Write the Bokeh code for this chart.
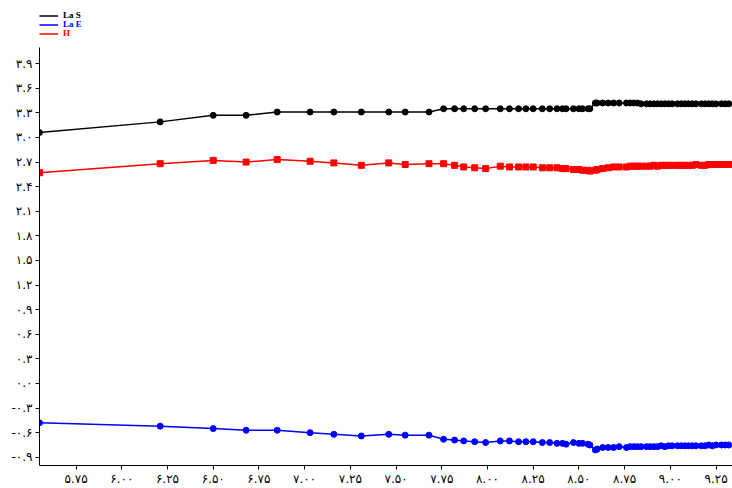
from bokeh.plotting import figure
from bokeh.models import (Range1d, FixedTicker, CustomJSTickFormatter, Legend, LegendItem)
from bokeh.embed import file_html
from bokeh.resources import INLINE

# ---- data ----
x_vals = [5.55, 6.21, 6.50, 6.68, 6.85, 7.03, 7.16, 7.31, 7.46, 7.55, 7.68,
          7.76, 7.82, 7.87, 7.93, 7.99, 8.07, 8.12, 8.17, 8.21, 8.25, 8.30,
          8.34, 8.38, 8.41, 8.43, 8.47, 8.50, 8.52, 8.55, 8.56,
          8.59, 8.60, 8.63, 8.66, 8.69, 8.72, 8.76, 8.78, 8.80, 8.82, 8.84,
          8.87, 8.89, 8.91, 8.93, 8.95, 8.97, 8.99, 9.01, 9.04, 9.06, 9.08,
          9.10, 9.12, 9.14, 9.17, 9.19, 9.21, 9.23, 9.25, 9.28, 9.30, 9.32]

la_s = [3.06, 3.19, 3.27, 3.27, 3.31, 3.31, 3.31, 3.31, 3.31, 3.31, 3.31,
        3.35, 3.35, 3.35, 3.35, 3.35, 3.35, 3.35, 3.35, 3.35, 3.35, 3.35,
        3.35, 3.35, 3.35, 3.35, 3.35, 3.35, 3.35, 3.35, 3.35,
        3.42, 3.42, 3.42, 3.42, 3.42, 3.42, 3.42, 3.42, 3.42, 3.42, 3.41,
        3.41, 3.41, 3.41, 3.41, 3.41, 3.41, 3.41, 3.41, 3.41, 3.41, 3.41,
        3.41, 3.41, 3.41, 3.41, 3.41, 3.41, 3.41, 3.41, 3.41, 3.41, 3.41]

la_e = [-0.48, -0.52, -0.55, -0.57, -0.57, -0.60, -0.62, -0.64, -0.62, -0.63, -0.63,
        -0.68, -0.69, -0.70, -0.71, -0.72, -0.70, -0.70, -0.71, -0.71, -0.71, -0.72,
        -0.72, -0.73, -0.73, -0.74, -0.72, -0.73, -0.73, -0.74, -0.75,
        -0.81, -0.80, -0.78, -0.78, -0.78, -0.77, -0.78, -0.77, -0.77, -0.77, -0.77,
        -0.77, -0.77, -0.77, -0.77, -0.76, -0.77, -0.76, -0.76, -0.76, -0.76, -0.76,
        -0.76, -0.76, -0.76, -0.76, -0.76, -0.75, -0.76, -0.75, -0.75, -0.75, -0.75]

h_vals = [2.57, 2.68, 2.72, 2.70, 2.73, 2.71, 2.69, 2.66, 2.69, 2.67, 2.68,
          2.68, 2.66, 2.64, 2.63, 2.62, 2.65, 2.64, 2.64, 2.64, 2.64, 2.63,
          2.63, 2.63, 2.62, 2.62, 2.61, 2.61, 2.60, 2.60, 2.59,
          2.60, 2.61, 2.62, 2.63, 2.64, 2.64, 2.64, 2.65, 2.65, 2.65, 2.65,
          2.65, 2.65, 2.66, 2.65, 2.66, 2.66, 2.66, 2.66, 2.66, 2.66, 2.66,
          2.66, 2.66, 2.67, 2.66, 2.66, 2.67, 2.67, 2.67, 2.67, 2.67, 2.67]

series_names = ["La S", "La E", "H"]
series_colors = ["#000000", "#0000ff", "#ff0000"]

x_ticks = [5.75, 6.00, 6.25, 6.50, 6.75, 7.00, 7.25, 7.50, 7.75, 8.00,
           8.25, 8.50, 8.75, 9.00, 9.25]
x_tick_labels = ["۵.۷۵", "۶.۰۰", "۶.۲۵", "۶.۵۰", "۶.۷۵", "۷.۰۰", "۷.۲۵", "۷.۵۰",
                 "۷.۷۵", "۸.۰۰", "۸.۲۵", "۸.۵۰", "۸.۷۵", "۹.۰۰", "۹.۲۵"]
y_ticks = [-0.9, -0.6, -0.3, 0.0, 0.3, 0.6, 0.9, 1.2, 1.5, 1.8, 2.1, 2.4,
           2.7, 3.0, 3.3, 3.6, 3.9]
y_tick_labels = ["-۰.۹", "-۰.۶", "-۰.۳", "۰.۰", "۰.۳", "۰.۶", "۰.۹", "۱.۲", "۱.۵",
                 "۱.۸", "۲.۱", "۲.۴", "۲.۷", "۳.۰", "۳.۳", "۳.۶", "۳.۹"]

p = figure(width=732, height=488, output_backend="svg", toolbar_location=None,
           title=None,
           x_range=Range1d(5.55, 9.34), y_range=Range1d(-1.0, 4.67),
           min_border_left=39, min_border_right=0, min_border_top=0,
           min_border_bottom=23)
p.outline_line_color = None
p.grid.visible = False
p.background_fill_color = "white"
p.border_fill_color = "white"

fmt_code = """
let best = -1, bd = 1e9;
for (let i = 0; i < tvals.length; i++) {
  const d = Math.abs(tvals[i] - tick);
  if (d < bd) { bd = d; best = i; }
}
return (best >= 0 && bd < 1e-6) ? tlabels[best] : "";
"""
p.xaxis.ticker = FixedTicker(ticks=x_ticks)
p.xaxis.formatter = CustomJSTickFormatter(args=dict(tvals=x_ticks, tlabels=x_tick_labels), code=fmt_code)
p.yaxis.ticker = FixedTicker(ticks=y_ticks)
p.yaxis.formatter = CustomJSTickFormatter(args=dict(tvals=y_ticks, tlabels=y_tick_labels), code=fmt_code)
p.yaxis.bounds = (-1.0, 4.1)

for ax in (p.xaxis, p.yaxis):
    ax.axis_line_color = "black"
    ax.axis_line_width = 1
    ax.major_tick_line_color = "black"
    ax.major_tick_out = 4
    ax.major_tick_in = 0
    ax.minor_tick_line_color = None
    ax.major_label_text_font = "DejaVu Sans"
    ax.major_label_text_font_size = "12px"
    ax.major_label_text_color = "#000000"
p.yaxis.major_label_standoff = 3
p.xaxis.major_label_standoff = 2

line_rs = []
for ys, col, marker in [(la_s, series_colors[0], "circle"),
                        (la_e, series_colors[1], "circle"),
                        (h_vals, series_colors[2], "square")]:
    lr = p.line(x_vals, ys, line_color=col, line_width=1.5)
    p.scatter(x_vals, ys, marker=marker, size=6, fill_color=col, line_color=col)
    line_rs.append(lr)

# legend: one per series so each label has its own colour
legend_bottoms = [445, 436, 427]
for name, col, lr, yb in zip(series_names, series_colors, line_rs, legend_bottoms):
    lg = Legend(items=[LegendItem(label=name, renderers=[lr])],
                location=(0, yb), glyph_width=19, glyph_height=9,
                label_height=9, label_width=10, padding=0, spacing=0, margin=0,
                border_line_color=None, background_fill_alpha=0,
                label_text_font="Liberation Serif", label_text_font_style="bold",
                label_text_font_size="9px", label_text_color=col,
                label_standoff=5)
    p.add_layout(lg)

open("out.html", "w").write(file_html(p, INLINE))
